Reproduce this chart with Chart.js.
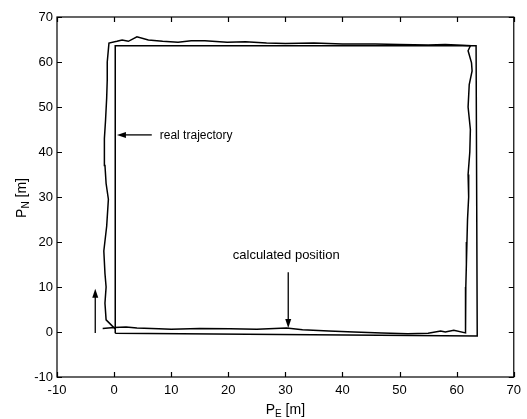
<!DOCTYPE html>
<html>
<head>
<meta charset="utf-8">
<script src="https://cdn.jsdelivr.net/npm/chart.js@4.4.1/dist/chart.umd.min.js"></script>
<style>
  html, body { margin: 0; padding: 0; background: #fff; }
  #wrap { width: 527px; height: 419px; }
</style>
</head>
<body>
<div id="wrap"><canvas id="mychart" width="527" height="419"></canvas></div>
<script>
// tick labels
var xTicks = [-10, 0, 10, 20, 30, 40, 50, 60, 70]
var yTicks = [-10, 0, 10, 20, 30, 40, 50, 60, 70]

// real trajectory (straight rectangle)
var realE = [0.2, 0.2, 63.4, 63.6, 0.2]
var realN = [-0.3, 63.6, 63.6, -0.9, -0.3]

// calculated position (jagged loop)
var calcE = [0.2, -0.3, -1.4, -1.6, -1.4, -1.6, -1.8, -1.3, -1.0, -1.4, -1.6, -1.7, -1.5, -1.3, -1.2, -1.2, -0.9,
  0.5, 1.4, 2.5, 4.0, 6.0, 8.5, 11.2, 13.5, 15.9, 19.8, 23.0, 26.7, 30.0, 35.0, 40.0, 45.7, 50.0, 55.0, 58.0, 61.0, 62.4,
  62.0, 62.6, 62.7, 62.2, 62.0, 62.4, 62.3, 62.0, 62.1, 61.9, 61.8, 61.7, 61.6, 61.6, 61.5,
  59.5, 58.0, 57.2, 55.0, 51.4, 46.9, 42.0, 37.6, 33.0, 30.2, 25.0, 20.3, 15.0, 10.0, 7.8, 4.0, 2.1, 0.0, -2.0]
var calcN = [0.7, 1.3, 2.7, 6.4, 10.0, 13.0, 18.0, 23.5, 29.5, 33.0, 37.0, 43.0, 47.0, 52.0, 56.0, 60.0, 64.2,
  64.6, 64.9, 64.6, 65.6, 64.9, 64.6, 64.4, 64.7, 64.7, 64.4, 64.5, 64.2, 64.1, 64.2, 64.0, 64.0, 63.9, 63.8, 63.9, 63.7, 63.6,
  62.5, 59.8, 58.0, 55.0, 50.0, 45.0, 40.0, 35.0, 30.0, 25.0, 20.0, 15.0, 10.0, 5.0, -0.2,
  0.4, 0.0, 0.2, -0.3, -0.4, -0.2, 0.0, 0.2, 0.5, 0.9, 0.6, 0.7, 0.8, 0.6, 0.7, 0.9, 1.1, 1.0, 0.8]

// annotations: [x1, y1, x2, y2] arrow runs from 1 to 2 (head at 2)
var startArrow = [-3.3, -0.2, -3.3, 9.6]
var realArrow = [6.6, 43.8, 0.5, 43.8]
var calcArrow = [30.5, 13.3, 30.5, 0.9]
var realLabel = "real trajectory"
var calcLabel = "calculated position"

var FONT = "'Liberation Sans', Arial, sans-serif"

function pts(xs, ys) {
  var out = []
  for (var i = 0; i < xs.length; i++) out.push({x: xs[i], y: ys[i]})
  return out
}

function arrow(ctx, sx, sy, a) {
  var x1 = sx.getPixelForValue(a[0]), y1 = sy.getPixelForValue(a[1])
  var x2 = sx.getPixelForValue(a[2]), y2 = sy.getPixelForValue(a[3])
  var ang = Math.atan2(y2 - y1, x2 - x1)
  var hl = 9, hw = 3
  ctx.beginPath()
  ctx.moveTo(x1, y1)
  ctx.lineTo(x2 - Math.cos(ang) * hl * 0.7, y2 - Math.sin(ang) * hl * 0.7)
  ctx.stroke()
  ctx.beginPath()
  ctx.moveTo(x2, y2)
  ctx.lineTo(x2 - Math.cos(ang) * hl - Math.sin(ang) * hw, y2 - Math.sin(ang) * hl + Math.cos(ang) * hw)
  ctx.lineTo(x2 - Math.cos(ang) * hl + Math.sin(ang) * hw, y2 - Math.sin(ang) * hl - Math.cos(ang) * hw)
  ctx.closePath()
  ctx.fill()
}

var frame = {
  id: "frame",
  afterDatasetsDraw: function(chart) {
    var ctx = chart.ctx, a = chart.chartArea
    var sx = chart.scales.x, sy = chart.scales.y
    ctx.save()
    ctx.strokeStyle = "#000"
    ctx.fillStyle = "#000"
    ctx.lineWidth = 1.2
    ctx.strokeRect(a.left, a.top, a.right - a.left, a.bottom - a.top)
    // inward ticks on all four sides
    ctx.beginPath()
    xTicks.forEach(function(v) {
      var px = Math.round(sx.getPixelForValue(v)) + 0.5
      ctx.moveTo(px, a.bottom); ctx.lineTo(px, a.bottom - 5)
      ctx.moveTo(px, a.top); ctx.lineTo(px, a.top + 5)
    })
    yTicks.forEach(function(v) {
      var py = Math.round(sy.getPixelForValue(v)) + 0.5
      ctx.moveTo(a.left, py); ctx.lineTo(a.left + 5, py)
      ctx.moveTo(a.right, py); ctx.lineTo(a.right - 5, py)
    })
    ctx.stroke()

    // arrows
    ctx.lineWidth = 1.3
    arrow(ctx, sx, sy, startArrow)
    arrow(ctx, sx, sy, realArrow)
    arrow(ctx, sx, sy, calcArrow)

    // annotation text
    ctx.font = "12px " + FONT
    ctx.textBaseline = "middle"
    ctx.textAlign = "left"
    ctx.fillText(realLabel, sx.getPixelForValue(realArrow[0]) + 8, sy.getPixelForValue(realArrow[1]) + 1)
    ctx.font = "13px " + FONT
    ctx.textAlign = "center"
    ctx.fillText(calcLabel, sx.getPixelForValue(calcArrow[0]) - 2, sy.getPixelForValue(calcArrow[1]) - 17)

    // axis titles with subscripts
    function title(x, y, rot, sub) {
      ctx.save()
      ctx.translate(x, y)
      ctx.rotate(rot)
      ctx.textAlign = "left"
      ctx.textBaseline = "alphabetic"
      var big = "14px " + FONT, small = "10px " + FONT
      ctx.font = big
      var w1 = ctx.measureText("P").width
      var w3 = ctx.measureText(" [m]").width
      ctx.font = small
      var w2 = ctx.measureText(sub).width
      var x0 = -(w1 + w2 + w3) / 2
      ctx.font = big
      ctx.fillText("P", x0, 0)
      ctx.font = small
      ctx.fillText(sub, x0 + w1, 3)
      ctx.font = big
      ctx.fillText(" [m]", x0 + w1 + w2, 0)
      ctx.restore()
    }
    title((a.left + a.right) / 2 + 0, 414, 0, "E")
    title(26, 198, -Math.PI / 2, "N")
    ctx.restore()
  }
}

var mychart = document.getElementById("mychart").getContext("2d")
var chart = new Chart(mychart, {
  type: "scatter",
  data: {
    datasets: [{
      label: "real trajectory",
      data: pts(realE, realN),
      showLine: true,
      borderColor: "#000",
      borderWidth: 1.5,
      pointRadius: 0,
      tension: 0
    },
    {
      label: "calculated position",
      data: pts(calcE, calcN),
      showLine: true,
      borderColor: "#000",
      borderWidth: 1.5,
      pointRadius: 0,
      tension: 0
    }]
  },
  options: {
    responsive: false,
    animation: false,
    devicePixelRatio: 1,
    layout: {padding: {top: 17, right: 7, left: 0, bottom: 0}},
    plugins: {legend: {display: false}, tooltip: {enabled: false}},
    scales: {
      x: {
        type: "linear", min: -10, max: 70,
        grid: {display: false, drawTicks: false},
        border: {display: false},
        ticks: {color: "#000", font: {family: FONT, size: 13}, padding: 6, maxRotation: 0, autoSkip: false},
        afterBuildTicks: function(s) { s.ticks = xTicks.map(function(v) { return {value: v} }) },
        afterFit: function(s) { s.height = 42 }
      },
      y: {
        type: "linear", min: -10, max: 70,
        grid: {display: false, drawTicks: false},
        border: {display: false},
        ticks: {color: "#000", font: {family: FONT, size: 13}, padding: 4, autoSkip: false},
        afterBuildTicks: function(s) { s.ticks = yTicks.map(function(v) { return {value: v} }) },
        afterFit: function(s) { s.width = 57 }
      }
    }
  },
  plugins: [frame]
})
</script>
</body>
</html>
